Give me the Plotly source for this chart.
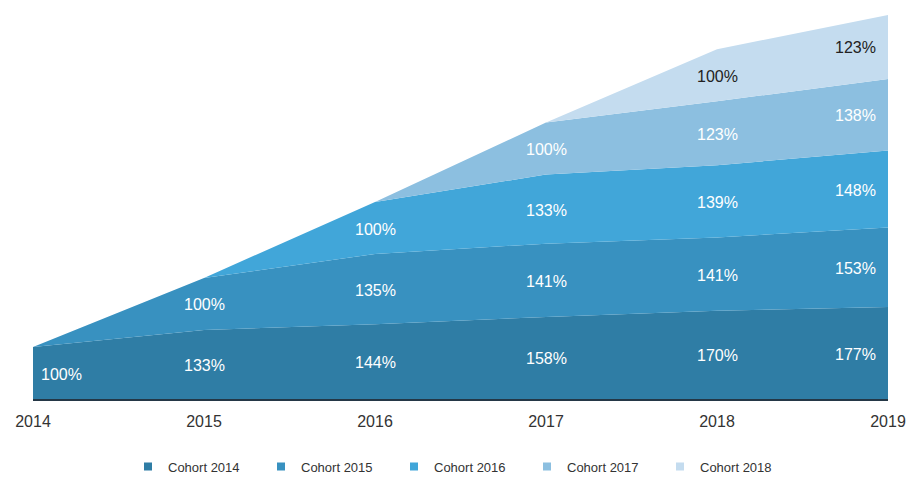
import plotly.graph_objects as go

# Years on the x axis
years = [2014, 2015, 2016, 2017, 2018, 2019]

# Cohort names and the year each cohort starts
cohorts = ["Cohort 2014", "Cohort 2015", "Cohort 2016", "Cohort 2017", "Cohort 2018"]
start_years = [2014, 2015, 2016, 2017, 2018]

# Revenue of each cohort as % of its first year, from its start year onwards
cohort_2014 = [100, 133, 144, 158, 170, 177]
cohort_2015 = [100, 135, 141, 141, 153]
cohort_2016 = [100, 133, 139, 148]
cohort_2017 = [100, 123, 138]
cohort_2018 = [100, 123]
retention = [cohort_2014, cohort_2015, cohort_2016, cohort_2017, cohort_2018]

colors = ["#2F7DA5", "#3891C0", "#41A6D9", "#8CBFE0", "#C4DCEF"]
label_colors = ["#FFFFFF", "#FFFFFF", "#FFFFFF", "#FFFFFF", "#222222"]

FONT = "Liberation Sans, Arial, sans-serif"

fig = go.Figure()

# Pad with zeros before each cohort starts so the band grows in from zero
series = []
for start, vals in zip(start_years, retention):
    pad = years.index(start)
    series.append([0] * pad + list(vals))

for name, ys, col in zip(cohorts, series, colors):
    fig.add_trace(go.Scatter(
        x=years, y=ys, mode="lines", stackgroup="one",
        line=dict(width=0, color=col), fillcolor=col,
        name=name, showlegend=False, hoverinfo="skip",
    ))

# Legend entries drawn as small squares
for name, col in zip(cohorts, colors):
    fig.add_trace(go.Scatter(
        x=[None], y=[None], mode="markers", name=name,
        marker=dict(symbol="square", size=8, color=col),
    ))

# Percentage labels in the middle of each band
cum = [0] * len(years)
for ci, (start, ys) in enumerate(zip(start_years, series)):
    for i, yr in enumerate(years):
        v = ys[i]
        if yr >= start:
            mid = cum[i] + v / 2
            if i == 0:
                xanchor, xshift = "left", 6
            elif i == len(years) - 1:
                xanchor, xshift = "right", -10
            else:
                xanchor, xshift = "center", 0
            fig.add_annotation(
                x=yr, y=mid, text=f"{v}%", showarrow=False,
                xanchor=xanchor, xshift=xshift, yanchor="middle", yshift=-1,
                font=dict(family=FONT, size=16, color=label_colors[ci]),
            )
        cum[i] += v

total_top = max(cum)

fig.update_layout(
    width=907, height=479,
    margin=dict(l=33, r=19, t=15, b=80, autoexpand=False),
    paper_bgcolor="white", plot_bgcolor="white",
    font=dict(family=FONT, color="#333333"),
    xaxis=dict(
        range=[2014, 2019], tickvals=years, ticktext=[str(y) for y in years],
        showgrid=False, zeroline=False, showline=True,
        linecolor="#243746", linewidth=2, ticks="",
        ticklabelstandoff=7, tickfont=dict(size=16, color="#333333"),
    ),
    yaxis=dict(range=[0, total_top], visible=False),
    legend=dict(
        orientation="h", x=0.5, xanchor="center", y=-0.137, yanchor="top",
        font=dict(size=13, color="#333333"), traceorder="normal",
        itemwidth=30, entrywidth=88, entrywidthmode="pixels",
    ),
)

fig.write_html("out.html")
